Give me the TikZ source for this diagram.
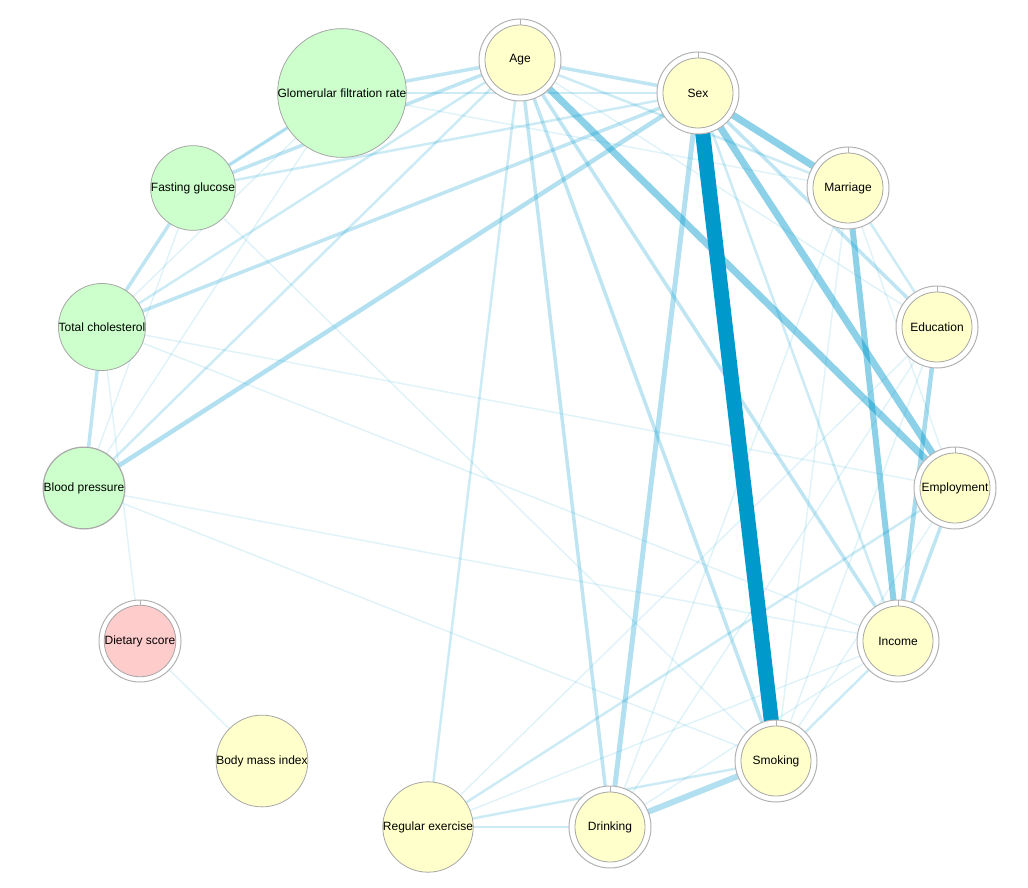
\documentclass[tikz,border=0pt]{standalone}
\usepackage{fontspec}
\setmainfont{Liberation Sans}
\usetikzlibrary{positioning,calc}
\definecolor{edgeblue}{HTML}{0099CC}
\definecolor{ygreen}{HTML}{CCFFCC}
\definecolor{yyellow}{HTML}{FFFFCC}
\definecolor{yred}{HTML}{FFCCCC}
\tikzset{x=1pt,y=-1pt,
  ring/.style={draw=gray!60,fill=white,line width=1pt},
  var/.style={circle,draw=gray!70,line width=0.8pt,minimum size=70pt,inner sep=0pt,font=\fontsize{12}{14}\selectfont},
  e/.style={draw=edgeblue,line width=#1pt},
  e/.default=1}

\begin{document}
\begin{tikzpicture}
\useasboundingbox (0,0) rectangle (1028,888);
% positions
\coordinate (age) at (520,60);
\coordinate (sex) at (698,93);
\coordinate (mar) at (848,188);
\coordinate (edu) at (937,327);
\coordinate (emp) at (955,488);
\coordinate (inc) at (898,641);
\coordinate (smo) at (776,761);
\coordinate (dri) at (610,827);
\coordinate (exe) at (428,827);
\coordinate (bmi) at (262,761);
\coordinate (die) at (140,641);
\coordinate (bp) at (84,488);
\coordinate (tc) at (102,327);
\coordinate (fg) at (193,188);
\coordinate (gfr) at (342,93);

% faint edges
\foreach \a/\b in {gfr/tc,gfr/bp,fg/bp,fg/smo,tc/emp,tc/inc,bp/inc,bp/smo,die/bmi,gfr/mar,
  mar/dri,mar/smo,edu/dri,edu/smo,edu/exe,inc/dri,inc/exe,emp/smo,age/edu,mar/emp,tc/die,fg/gfr}
  \draw[e=1.5,draw opacity=0.12] (\a) -- (\b);
\foreach \a/\b in {age/tc,age/exe,age/bp,sex/fg,sex/gfr,age/mar,sex/inc,emp/exe,mar/edu,dri/exe,smo/exe,inc/smo}
  \draw[e=2.5,draw opacity=0.2] (\a) -- (\b);
% medium edges
\foreach \a/\b in {age/gfr,age/fg,gfr/fg,fg/tc,tc/bp,sex/tc,age/sex,sex/edu,age/smo,age/inc,emp/inc,age/dri}
  \draw[e=3.5,draw opacity=0.25] (\a) -- (\b);
\draw[e=4.5,draw opacity=0.3] (sex) -- (bp);
\draw[e=4.5,draw opacity=0.35] (edu) -- (inc);
\draw[e=5,draw opacity=0.3] (sex) -- (dri);
\draw[e=6,draw opacity=0.3] (dri) -- (smo);
\draw[e=6,draw opacity=0.45] (mar) -- (inc);
\draw[e=7,draw opacity=0.45] (sex) -- (mar);
\draw[e=7,draw opacity=0.45] (sex) -- (emp);
\draw[e=7,draw opacity=0.45] (age) -- (emp);
\draw[e=15] (sex) -- (smo);

% outer rings
\foreach \c in {age,sex,mar,edu,emp,inc,smo,dri,exe,bmi,die,bp,tc,fg,gfr}{
  \draw[ring] (\c) circle (41);
  \draw[gray!60,line width=1pt] ($(\c)+(0,-41)$) -- ++(0,6);
}
% variables
\node[var,fill=yyellow] at (age) {Age};
\node[var,fill=yyellow] at (sex) {Sex};
\node[var,fill=yyellow] at (mar) {Marriage};
\node[var,fill=yyellow] at (edu) {Education};
\node[var,fill=yyellow] at (emp) {Employment};
\node[var,fill=yyellow] at (inc) {Income};
\node[var,fill=yyellow] at (smo) {Smoking};
\node[var,fill=yyellow] at (dri) {Drinking};
\node[var,fill=yyellow] at (exe) {Regular exercise};
\node[var,fill=yyellow] at (bmi) {Body mass index};
\node[var,fill=yred] at (die) {Dietary score};
\node[var,fill=ygreen] at (bp) {Blood pressure};
\node[var,fill=ygreen] at (tc) {Total cholesterol};
\node[var,fill=ygreen] at (fg) {Fasting glucose};
\node[var,fill=ygreen] at (gfr) {Glomerular filtration rate};
\end{tikzpicture}
\end{document}
